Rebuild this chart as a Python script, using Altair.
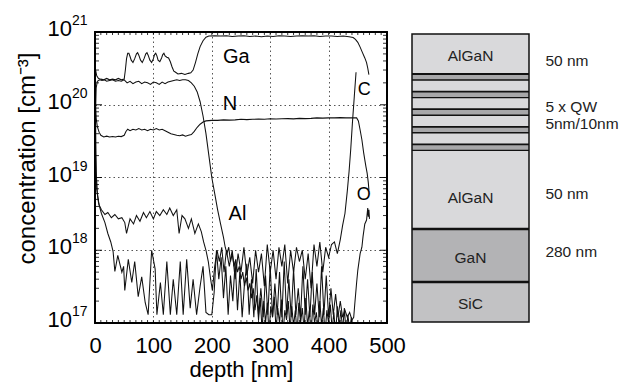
import altair as alt
import pandas as pd

FONT = "Liberation Sans"
W, H = 292, 291  # plot area of the depth profile

# SIMS depth profiles: (depth [nm], concentration [cm^-3])
GA = [(0, 3.4e20), (1, 3.0e20), (3, 2.5e20), (6, 2.3e20), (10, 2.25e20), (15, 2.2e20), (20, 2.3e20),
      (25, 2.2e20), (30, 2.25e20), (35, 2.2e20), (40, 2.3e20), (45, 2.2e20), (50, 2.25e20), (52, 3.0e20),
      (54, 4.3e20), (56, 5.1e20), (58, 5.1e20), (60, 4.6e20), (62, 4.1e20), (65, 3.8e20), (68, 4.3e20),
      (71, 5.0e20), (73, 5.2e20), (75, 4.8e20), (78, 4.1e20), (81, 3.8e20), (84, 4.3e20), (87, 5.0e20),
      (89, 5.2e20), (91, 4.8e20), (94, 4.1e20), (97, 3.8e20), (100, 4.3e20), (102, 4.9e20), (104, 5.1e20),
      (106, 4.7e20), (108, 4.1e20), (111, 3.9e20), (114, 4.4e20), (116, 4.9e20), (118, 5.1e20),
      (120, 4.7e20), (123, 4.5e20), (126, 4.4e20), (129, 3.9e20), (132, 3.3e20), (135, 2.9e20),
      (138, 2.8e20), (142, 2.65e20), (148, 2.7e20), (154, 2.6e20), (160, 2.7e20), (164, 2.75e20),
      (168, 3.0e20), (172, 3.8e20), (176, 5.0e20), (180, 6.3e20), (185, 7.6e20), (190, 8.5e20),
      (195, 8.8e20), (205, 8.9e20), (215, 8.8e20), (225, 8.9e20), (235, 8.7e20), (245, 8.8e20),
      (255, 8.9e20), (265, 8.7e20), (275, 8.8e20), (285, 8.6e20), (295, 8.8e20), (305, 8.7e20),
      (315, 8.9e20), (325, 8.8e20), (335, 8.7e20), (345, 8.8e20), (355, 8.9e20), (365, 8.8e20),
      (375, 8.9e20), (385, 8.7e20), (395, 8.8e20), (405, 8.8e20), (415, 8.7e20), (425, 8.8e20),
      (435, 8.6e20), (442, 8.4e20), (446, 7.9e20), (450, 7.2e20), (454, 6.2e20), (458, 5.2e20),
      (462, 4.4e20), (465, 3.8e20), (467, 3.2e20), (469, 2.6e20)]

N = [(0, 1.3e20), (1, 9e19), (2, 6.5e19), (4, 5e19), (7, 4.2e19), (10, 3.8e19), (15, 3.6e19), (20, 3.7e19),
     (25, 3.6e19), (30, 3.65e19), (35, 3.6e19), (40, 3.7e19), (45, 3.65e19), (50, 3.8e19), (53, 4.3e19),
     (56, 4.6e19), (60, 4.4e19), (65, 4.6e19), (70, 4.5e19), (75, 4.7e19), (80, 4.5e19), (85, 4.6e19),
     (90, 4.4e19), (95, 4.6e19), (100, 4.5e19), (105, 4.7e19), (110, 4.5e19), (115, 4.6e19), (120, 4.4e19),
     (125, 4.2e19), (130, 4.0e19), (135, 3.9e19), (140, 3.8e19), (145, 3.75e19), (150, 3.85e19),
     (155, 3.7e19), (160, 3.8e19), (165, 3.9e19), (170, 4.3e19), (175, 4.9e19), (180, 5.4e19),
     (185, 5.8e19), (190, 6.0e19), (200, 6.1e19), (210, 6.1e19), (220, 6.2e19), (230, 6.15e19),
     (240, 6.2e19), (250, 6.3e19), (260, 6.25e19), (270, 6.3e19), (280, 6.35e19), (290, 6.3e19),
     (300, 6.4e19), (310, 6.35e19), (320, 6.4e19), (330, 6.45e19), (340, 6.4e19), (350, 6.5e19),
     (360, 6.45e19), (370, 6.5e19), (380, 6.6e19), (390, 6.55e19), (400, 6.6e19), (410, 6.6e19),
     (420, 6.65e19), (430, 6.6e19), (440, 6.6e19), (448, 6.6e19), (451, 6.0e19), (454, 4.5e19),
     (457, 3.3e19), (460, 2.2e19), (462, 1.75e19), (464, 1.4e19), (466, 1.15e19), (468, 8.5e18),
     (469, 6.8e18)]

AL = [(0, 1e19), (1, 8e19), (2, 1.7e20), (4, 2.1e20), (8, 2.2e20), (12, 2.15e20), (16, 2.2e20),
      (20, 2.1e20), (25, 2.15e20), (30, 2.2e20), (35, 2.1e20), (40, 2.15e20), (45, 2.1e20), (50, 2.2e20),
      (55, 2.0e20), (60, 2.1e20), (65, 1.95e20), (70, 2.05e20), (75, 2.1e20), (80, 1.95e20),
      (85, 2.05e20), (90, 2.0e20), (95, 1.9e20), (100, 2.05e20), (105, 2.0e20), (110, 1.9e20),
      (115, 2.05e20), (120, 1.95e20), (125, 2.05e20), (130, 2.1e20), (135, 2.15e20), (140, 2.2e20),
      (145, 2.15e20), (150, 2.2e20), (155, 2.2e20), (160, 2.15e20), (165, 2.0e20), (170, 1.8e20),
      (175, 1.5e20), (180, 1.1e20), (185, 7e19), (190, 4e19), (195, 2e19), (200, 1.0e19), (205, 6e18),
      (210, 3.6e18), (215, 2.3e18), (220, 1.5e18), (223, 1.1e18), (226, 9e17), (229, 1.1e18),
      (232, 7e17), (235, 9e17), (238, 6e17), (241, 7.5e17), (244, 5e17), (247, 6e17), (250, 4e17),
      (253, 5e17), (256, 3.2e17), (259, 4.2e17), (262, 2.8e17), (265, 3.5e17), (268, 2.2e17),
      (271, 3e17), (274, 1.5e17), (277, 2.4e17), (280, 1.1e17), (283, 2.2e17), (286, 0.8e17),
      (289, 2.0e17), (292, 1.0e17), (295, 1.9e17), (298, 0.7e17), (301, 1.7e17), (304, 1.2e17),
      (307, 2.3e17), (310, 0.8e17), (313, 1.6e17), (316, 1.0e17), (319, 2.1e17), (322, 0.7e17),
      (325, 1.5e17), (328, 1.1e17), (331, 2.0e17), (334, 0.8e17), (337, 1.7e17), (340, 0.9e17),
      (343, 1.5e17), (346, 0.7e17), (349, 1.9e17), (352, 1.0e17), (355, 1.6e17), (358, 0.8e17),
      (361, 2.2e17), (364, 0.9e17), (367, 1.5e17), (370, 0.7e17), (373, 1.8e17), (376, 1.0e17),
      (379, 1.4e17), (382, 0.8e17), (385, 2.0e17), (388, 0.9e17), (391, 1.6e17), (394, 0.7e17),
      (397, 1.5e17), (400, 1.0e17), (403, 1.8e17), (406, 0.8e17), (409, 1.4e17), (412, 0.7e17),
      (415, 1.7e17), (418, 0.9e17), (421, 1.5e17), (424, 0.8e17), (427, 1.6e17), (430, 0.7e17),
      (433, 1.3e17), (436, 0.8e17), (439, 1.2e17), (442, 0.7e17)]

C = [(0, 6e20), (1, 6e19), (2, 1.2e19), (4, 6e18), (7, 4.2e18), (11, 3.6e18), (17, 3.1e18), (22, 3.3e18),
     (28, 2.8e18), (34, 3.1e18), (40, 2.7e18), (46, 2.8e18), (51, 2.4e18), (54, 1.7e18), (60, 2.7e18),
     (66, 2.3e18), (71, 3.0e18), (77, 2.5e18), (83, 3.3e18), (88, 2.8e18), (94, 3.4e18), (100, 2.7e18),
     (105, 3.4e18), (111, 3.0e18), (117, 3.6e18), (123, 3.1e18), (128, 3.8e18), (134, 3.0e18),
     (140, 3.6e18), (144, 1.7e18), (149, 3.0e18), (154, 2.7e18), (160, 2.0e18), (165, 2.7e18),
     (171, 1.7e18), (177, 2.3e18), (182, 1.8e18), (186, 1.3e18), (190, 1.0e18), (194, 7e17),
     (198, 4e17), (201, 2.8e17), (205, 6e17), (209, 1.0e18), (213, 7e17), (217, 1.1e18), (221, 5e17),
     (225, 1.0e18), (230, 6e17), (235, 1.0e18), (240, 4e17), (245, 9e17), (250, 5e17), (255, 1.1e18),
     (260, 4.5e17), (265, 8e17), (270, 3.5e17), (275, 1.0e18), (280, 5e17), (285, 9e17), (290, 3.2e17),
     (295, 1.2e18), (300, 5e17), (305, 1.0e18), (310, 4e17), (315, 1.1e18), (320, 6e17), (325, 1.2e18),
     (330, 3.5e17), (335, 1.0e18), (340, 5e17), (345, 1.1e18), (350, 7e17), (355, 1.0e18), (360, 4e17),
     (365, 9e17), (370, 3e17), (375, 1.2e18), (380, 6e17), (385, 1.3e18), (390, 5e17), (395, 1.1e18),
     (400, 8e17), (405, 1.2e18), (410, 1.3e18), (415, 9e17), (420, 1.4e18), (424, 2.2e18),
     (428, 3.2e18), (432, 6.5e18), (435, 1.2e19), (438, 2.5e19), (441, 6e19), (444, 1.3e20),
     (447, 2.8e20)]

O = [(0, 2e20), (1, 2e19), (3, 7e18), (6, 4.5e18), (11, 3.2e18), (17, 2.4e18), (22, 1.7e18), (27, 1.3e18),
     (31, 9.6e17), (34, 5.1e17), (39, 8.5e17), (46, 5e17), (49, 6e17), (51, 2.8e17), (57, 7.5e17),
     (63, 3.6e17), (68, 7e17), (74, 2.3e17), (80, 4.3e17), (86, 1.9e17), (91, 1.3e17), (97, 1.0e18),
     (103, 5.5e17), (106, 1.3e17), (112, 3.6e17), (117, 1.3e17), (123, 7e17), (129, 1.3e17),
     (134, 4e17), (140, 1.3e17), (146, 7e17), (151, 1.3e17), (157, 7.5e17), (163, 1.6e17), (168, 4e17),
     (174, 1.3e17), (180, 3.2e17), (185, 6e17), (190, 1.4e17), (195, 1.3e17), (200, 1.3e17),
     (204, 2.6e17), (208, 1.0e18), (212, 4e17), (216, 8e17), (220, 2.2e17), (224, 6e17), (228, 1.3e17),
     (232, 4.5e17), (236, 2e17), (240, 7e17), (244, 1.5e17), (248, 5e17), (252, 1.2e17), (256, 3.5e17),
     (260, 6.5e17), (264, 1.3e17), (268, 4e17), (272, 1.2e17), (276, 5.5e17), (280, 1.3e17),
     (284, 3e17), (288, 1.2e17), (292, 4.5e17), (296, 1.3e17), (300, 6e17), (304, 1.2e17), (308, 3.5e17),
     (312, 1.3e17), (316, 5e17), (320, 1.2e17), (324, 7e17), (328, 1.3e17), (332, 4e17), (336, 1.2e17),
     (340, 5.5e17), (344, 1.3e17), (348, 3e17), (352, 1.2e17), (356, 6e17), (360, 1.3e17), (364, 4e17),
     (368, 1.2e17), (372, 5e17), (376, 1.3e17), (380, 3.5e17), (384, 1.2e17), (388, 6e17),
     (392, 1.3e17), (396, 4.5e17), (400, 1.2e17), (404, 3e17), (408, 1.3e17), (412, 2.5e17),
     (416, 1.2e17), (420, 2e17), (424, 1.2e17), (428, 1.5e17), (432, 1.2e17), (436, 1.4e17),
     (440, 1.1e17), (443, 1.2e17), (445, 1.9e17), (448, 3.6e17), (450, 5.3e17), (454, 9e17),
     (457, 1.1e18), (459, 1.55e18), (462, 2.3e18), (465, 2.6e18), (467, 3.8e18), (468, 2.9e18),
     (469, 3.6e18), (470, 2.7e18)]

# element labels placed next to their curves
LABEL_TEXT = ["Ga", "N", "Al", "C", "O"]
LABEL_DEPTH = [242, 231, 244, 461, 460]
LABEL_CONC = [4.5e20, 1.02e20, 3.2e18, 1.6e20, 5.8e18]
LABEL_SIZE = [20, 20, 20, 18, 18]

# decade exponents for the y tick labels
DECADES = [17, 18, 19, 20, 21]
X_TICKS = [0, 100, 200, 300, 400, 500]

# layer stack sketch (schematic heights, top to bottom)
STACK_NAME = ["AlGaN", "", "AlGaN", "GaN", "SiC"]
STACK_TOP = [0, 40, 128, 195, 248]
STACK_BOTTOM = [40, 128, 195, 248, 288]
STACK_FILL = ["#d9d9db", "#d9d9db", "#d9d9db", "#b3b3b5", "#c2c2c4"]
QW_PERIODS = 5
QW_WELL = 6.0
QW_PERIOD = 17.6
SIDE_TEXT = ["50 nm", "5 x QW", "5nm/10nm", "50 nm", "280 nm"]
SIDE_Y = [26.7, 72.7, 89.7, 160, 218]

# ---------------------------------------------------------------- tables
rows = []
for name, pts in [("Ga", GA), ("N", N), ("Al", AL), ("C", C), ("O", O)]:
    for i, (d, c) in enumerate(pts):
        rows.append({"element": name, "depth": d, "conc": c, "i": i})
profiles = pd.DataFrame(rows)

labels = pd.DataFrame({"text": LABEL_TEXT, "depth": LABEL_DEPTH, "conc": LABEL_CONC, "size": LABEL_SIZE})
decades = pd.DataFrame({"v": [10.0 ** e for e in DECADES], "exp": [str(e) for e in DECADES]})
minor_y = pd.DataFrame({"v": [m * 10.0 ** e for e in DECADES[:-1] for m in range(2, 10)]})
major_y = pd.DataFrame({"v": [10.0 ** e for e in DECADES[1:-1]]})
minor_x = pd.DataFrame({"v": [d for d in range(10, 500, 10)]})

stack = pd.DataFrame({"name": STACK_NAME, "top": STACK_TOP, "bottom": STACK_BOTTOM,
                      "fill": STACK_FILL, "x0": 0.0, "x1": 1.0})
stack["mid"] = (stack["top"] + stack["bottom"]) / 2
wells = pd.DataFrame({"top": [40 + k * QW_PERIOD for k in range(QW_PERIODS)]})
wells["bottom"] = wells["top"] + QW_WELL
wells["x0"], wells["x1"] = 0.0, 1.0
side = pd.DataFrame({"text": SIDE_TEXT, "y": SIDE_Y, "x": 1.14})
interfaces = pd.DataFrame({"y": [40, 195, 248], "w": [2.0, 2.6, 2.6], "x0": 0.0, "x1": 1.0})

# ---------------------------------------------------------------- scales
xs = alt.Scale(domain=[0, 500], nice=False, zero=False)
ys = alt.Scale(type="log", domain=[1e17, 1e21], nice=False)
dxs = alt.Scale(domain=[0, 1], range=[317, 434], nice=False, zero=False)
dys = alt.Scale(domain=[0, 288], range=[2, 290], nice=False, zero=False)

x_axis = alt.Axis(values=X_TICKS, grid=True, gridDash=[1.5, 3], gridColor="#555", gridWidth=1,
                  ticks=False, domain=False, labelFont=FONT, labelFontSize=22, labelColor="black",
                  labelPadding=12, labelBaseline="top", labelFlush=False, labelOverlap=False,
                  title="depth [nm]", titleFont=FONT,
                  titleFontSize=22, titleFontWeight="normal", titleColor="black",
                  titleBaseline="alphabetic", titleY=53)
y_axis = alt.Axis(values=[1e18, 1e19, 1e20], grid=True, gridDash=[1.5, 3], gridColor="#555",
                  gridWidth=1, ticks=False, domain=False, labels=False,
                  title="concentration [cm⁻³]", titleFont=FONT, titleFontSize=24,
                  titleFontWeight="normal", titleColor="black", titleAngle=270,
                  titleBaseline="middle", titleAlign="center", titleX=-68, titleY=126)

lines = alt.Chart(profiles).mark_line(clip=True, color="#111", strokeWidth=1.05).encode(
    x=alt.X("depth:Q", scale=xs, axis=x_axis),
    y=alt.Y("conc:Q", scale=ys, axis=y_axis),
    detail="element:N",
    order="i:Q",
)

curve_labels = alt.Chart(labels).mark_text(font=FONT, color="black", baseline="middle").encode(
    x=alt.X("depth:Q", scale=xs, axis=None),
    y=alt.Y("conc:Q", scale=ys, axis=None),
    text="text:N",
    size=alt.Size("size:Q", scale=None, legend=None),
)

tick_base = alt.Chart(minor_y).mark_rule(color="black", strokeWidth=0.8)
y_minor_l = tick_base.encode(y=alt.Y("v:Q", scale=ys, axis=None), x=alt.value(0), x2=alt.value(4))
y_minor_r = tick_base.encode(y=alt.Y("v:Q", scale=ys, axis=None), x=alt.value(W), x2=alt.value(W - 4))
y_major_l = alt.Chart(major_y).mark_rule(color="black", strokeWidth=0.9).encode(
    y=alt.Y("v:Q", scale=ys, axis=None), x=alt.value(0), x2=alt.value(7))
y_major_r = alt.Chart(major_y).mark_rule(color="black", strokeWidth=0.9).encode(
    y=alt.Y("v:Q", scale=ys, axis=None), x=alt.value(W), x2=alt.value(W - 7))
x_minor_b = alt.Chart(minor_x).mark_rule(color="black", strokeWidth=0.8).encode(
    x=alt.X("v:Q", scale=xs, axis=None), y=alt.value(H), y2=alt.value(H - 3))
x_minor_t = alt.Chart(minor_x).mark_rule(color="black", strokeWidth=0.8).encode(
    x=alt.X("v:Q", scale=xs, axis=None), y=alt.value(0), y2=alt.value(3))

ten = alt.Chart(decades).mark_text(font=FONT, fontSize=22, align="right", baseline="alphabetic",
                                   dy=4, color="black").encode(
    y=alt.Y("v:Q", scale=ys, axis=None), x=alt.value(-23), text=alt.value("10"))
power = alt.Chart(decades).mark_text(font=FONT, fontSize=14, align="left", baseline="alphabetic",
                                     dy=-7, color="black").encode(
    y=alt.Y("v:Q", scale=ys, axis=None), x=alt.value(-23), text="exp:N")

frame = alt.Chart(decades).mark_rect(fill=None, stroke="black", strokeWidth=1.3).encode(
    x=alt.value(0), x2=alt.value(W), y=alt.value(0), y2=alt.value(H))

profile = alt.layer(lines, curve_labels, y_minor_l, y_minor_r, y_major_l, y_major_r,
                    x_minor_b, x_minor_t, ten, power, frame).resolve_axis(x="independent", y="independent")

# ---------------------------------------------------------------- layer stack
layers = alt.Chart(stack).mark_rect(stroke=None).encode(
    x=alt.X("x0:Q", scale=dxs, axis=None), x2="x1:Q",
    y=alt.Y("top:Q", scale=dys, axis=None), y2="bottom:Q",
    color=alt.Color("fill:N", scale=None, legend=None),
)
well_rects = alt.Chart(wells).mark_rect(color="#a7a7a9").encode(
    x=alt.X("x0:Q", scale=dxs, axis=None), x2="x1:Q",
    y=alt.Y("top:Q", scale=dys, axis=None), y2="bottom:Q",
)
well_top = alt.Chart(wells).mark_rule(color="#111", strokeWidth=1.8).encode(
    x=alt.X("x0:Q", scale=dxs, axis=None), x2="x1:Q", y=alt.Y("top:Q", scale=dys, axis=None))
well_bot = alt.Chart(wells).mark_rule(color="#111", strokeWidth=1.4).encode(
    x=alt.X("x0:Q", scale=dxs, axis=None), x2="x1:Q", y=alt.Y("bottom:Q", scale=dys, axis=None))
iface = alt.Chart(interfaces).mark_rule(color="#111").encode(
    x=alt.X("x0:Q", scale=dxs, axis=None), x2="x1:Q", y=alt.Y("y:Q", scale=dys, axis=None),
    strokeWidth=alt.StrokeWidth("w:Q", scale=None, legend=None))
outline = alt.Chart(stack).mark_rect(fill=None, stroke="#111", strokeWidth=1.5).encode(
    x=alt.X("min(x0):Q", scale=dxs, axis=None), x2="max(x1):Q",
    y=alt.Y("min(top):Q", scale=dys, axis=None), y2="max(bottom):Q",
)
names = alt.Chart(stack).mark_text(font=FONT, fontSize=15.5, color="#222", baseline="middle",
                                   dy=2).encode(
    x=alt.value(375.5), y=alt.Y("mid:Q", scale=dys, axis=None), text="name:N")
side_text = alt.Chart(side).mark_text(font=FONT, fontSize=15.5, color="#222", align="left",
                                      baseline="middle").encode(
    x=alt.X("x:Q", scale=dxs, axis=None), y=alt.Y("y:Q", scale=dys, axis=None), text="text:N")

sketch = alt.layer(layers, well_rects, well_top, well_bot, iface, outline, names, side_text)

chart = alt.layer(profile, sketch).resolve_scale(x="independent", y="independent").properties(
    width=W, height=H,
    autosize=alt.AutoSizeParams(type="none"),
    padding={"left": 95, "top": 32, "right": 244, "bottom": 59},
).configure_view(stroke=None).configure(background="white")

chart.save("out.html", embed_options={"renderer": "svg", "actions": False})
